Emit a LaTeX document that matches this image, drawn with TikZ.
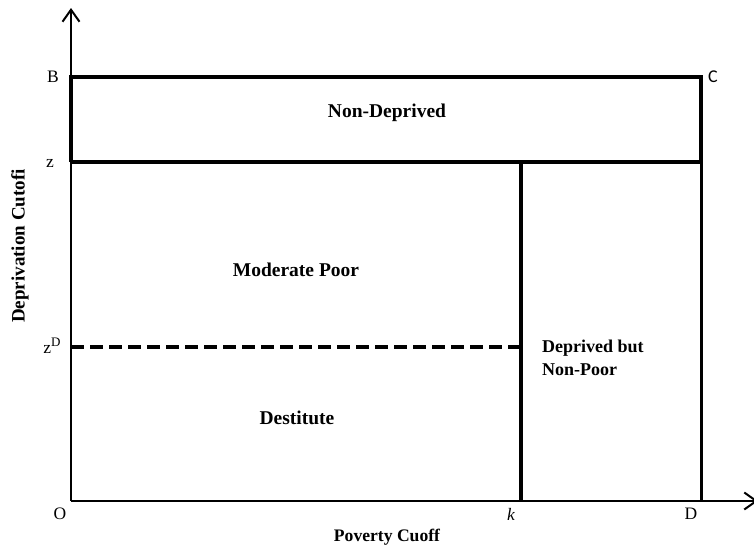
\documentclass[tikz,border=0pt]{standalone}
\usepackage{fontspec}
\setmainfont{Liberation Serif}
\newfontfamily\calib{Carlito}
\usetikzlibrary{arrows.meta}
\begin{document}
\begin{tikzpicture}[x=1pt,y=-1pt,
  thickline/.style={line width=4pt},
  axisline/.style={line width=2pt},
  region/.style={font=\fontsize{19.5}{22}\selectfont\bfseries, inner sep=0pt},
  ticklab/.style={font=\fontsize{17.5}{20}\selectfont, inner sep=0pt},
  barb/.style={-{Straight Barb[length=12pt,width=17pt,line width=2pt]}}]
\useasboundingbox (0,0) rectangle (754,546);
% points
\coordinate (O) at (71,501);
\coordinate (Ytop) at (71,8);
\coordinate (Xend) at (758,501);
\coordinate (B) at (71,77);
\coordinate (C) at (701,77);
\coordinate (Z) at (71,162);
\coordinate (ZC) at (701,162);
\coordinate (K) at (521,162);
\coordinate (KB) at (521,501);
\coordinate (DB) at (701,501);
\coordinate (ZD) at (71,347);
\coordinate (ZDK) at (521,347);
% axes
\draw[axisline,barb] (O) -- (Ytop);
\draw[axisline,barb] (O) -- (Xend);
% top box
\draw[thickline,line join=miter] (Z) -- (B) -- (C) -- (ZC);
\draw[thickline] (Z) -- (ZC);
% verticals
\draw[thickline] (K) -- (KB);
\draw[line width=3pt] (ZC) -- (DB);
% dashed
\draw[line width=4pt,dash pattern=on 12.5pt off 6.5pt] (ZD) -- (ZDK);
% region labels
\node[region] (nd) at (387,113) {Non-Deprived};
\node[region] (mp) at (296,270) {Moderate Poor};
\node[region] (de) at (297,418) {Destitute};
\node[region,anchor=west,align=left,font=\fontsize{18}{23}\selectfont\bfseries] (dnp) at (542,358) {Deprived but\\Non-Poor};
% axis titles
\node[region,font=\fontsize{17.6}{20}\selectfont\bfseries] (xt) at (387,537) {Poverty Cuoff};
\node[region,font=\fontsize{19}{22}\selectfont\bfseries,rotate=90] (yt) at (20,246) {Deprivation Cutofi};
% tick labels
\node[ticklab] (lB) at (53,77) {B};
\node[ticklab,font=\calib\fontsize{18}{20}\selectfont] (lC) at (713,77) {C};
\node[ticklab] (lz) at (50,163) {z};
\node[ticklab] (lzd) at (52,346) {z\raisebox{7pt}{\fontsize{13}{15}\selectfont D}};
\node[ticklab] (lO) at (60,514) {O};
\node[ticklab] (lk) at (511,514) {\itshape k};
\node[ticklab] (lD) at (691,514) {D};
\end{tikzpicture}
\end{document}
